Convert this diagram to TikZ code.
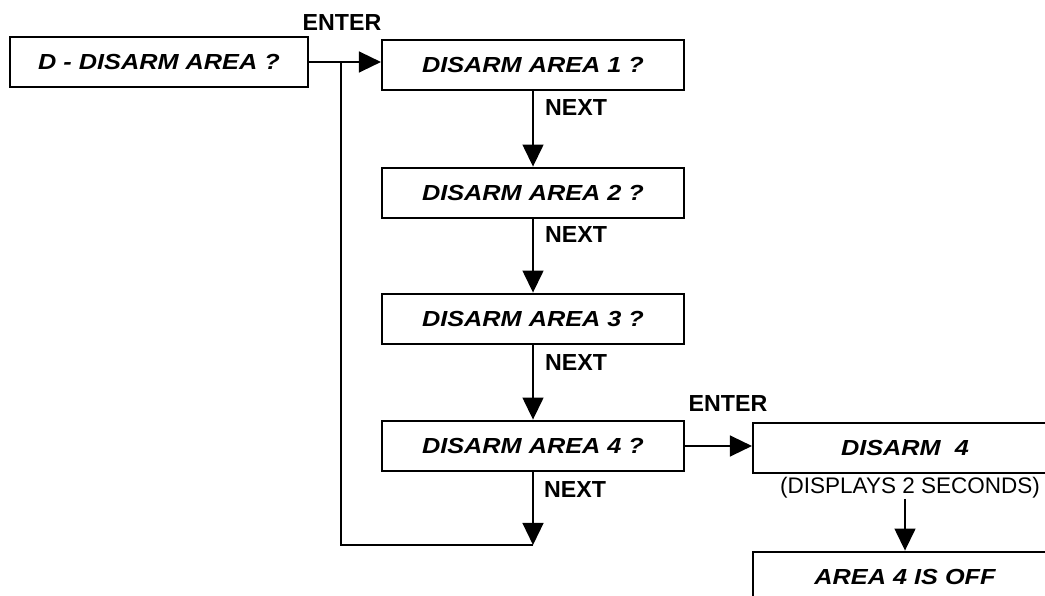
\documentclass[tikz,border=0pt]{standalone}
\usepackage{fontspec}
\setmainfont{Liberation Sans}
\newfontfamily\screenfont[FakeStretch=1.16]{Liberation Sans}
\usetikzlibrary{arrows.meta,positioning}

\begin{document}
\begin{tikzpicture}[x = 0.025cm, y = -0.025cm,
                        screen/.style = {draw, line width = 0.05cm, minimum width = 7.55cm, minimum height = 1.27cm,
                         inner sep = 0mm, font = \screenfont\fontsize{15.5}{18}\selectfont\bfseries\itshape},
                        key_label/.style = {inner sep = 0mm, font = \fontsize{16.5}{19}\selectfont\bfseries},
                        note/.style = {inner sep = 0mm, font = \fontsize{16}{19}\selectfont},
                        flow/.style = {line width = 0.05cm, -{Triangle[length = 0.55cm, width = 0.52cm]}},
                        link/.style = {line width = 0.05cm}]
        \useasboundingbox (0,0) rectangle (1045,596);
        \clip (0,0) rectangle (1045,596);
        %screens
        \node[screen, minimum width = 7.45cm] (menu) at (159,62) {D - DISARM AREA ?};
        \node[screen] (area1) at (533,65) {DISARM AREA 1 ?};
        \node[screen] (area2) at (533,193) {DISARM AREA 2 ?};
        \node[screen] (area3) at (533,319) {DISARM AREA 3 ?};
        \node[screen] (area4) at (533,446) {DISARM AREA 4 ?};
        \node[screen, minimum width = 7.6cm] (disarm) at (905,448) {DISARM\ \ 4};
        \node[screen, minimum width = 7.6cm] (off) at (905,577) {AREA 4 IS OFF};
        %labels
        \node[key_label] (enter1) at (342,23) {ENTER};
        \node[key_label] (enter2) at (728,404) {ENTER};
        \node[key_label] (next1) at (576,108) {NEXT};
        \node[key_label] (next2) at (576,235) {NEXT};
        \node[key_label] (next3) at (576,363) {NEXT};
        \node[key_label] (next4) at (575,490) {NEXT};
        \node[note] (wait) at (910,488) {(DISPLAYS 2 SECONDS)};
        %arrows
        \coordinate (split) at (341,62);
        \coordinate (back) at (533,545);
        \draw[flow] (menu.east) -- (menu.east -| area1.west);
        \draw[flow] (area1.south) -- (area2.north);
        \draw[flow] (area2.south) -- (area3.north);
        \draw[flow] (area3.south) -- (area4.north);
        \draw[flow] (area4.south) -- (back);
        \draw[link] (back) -| (split);
        \draw[flow] (area4.east) -- (disarm.west |- area4.east);
        \draw[flow] (wait.south -| off.north) -- (off.north);
\end{tikzpicture}
\end{document}
